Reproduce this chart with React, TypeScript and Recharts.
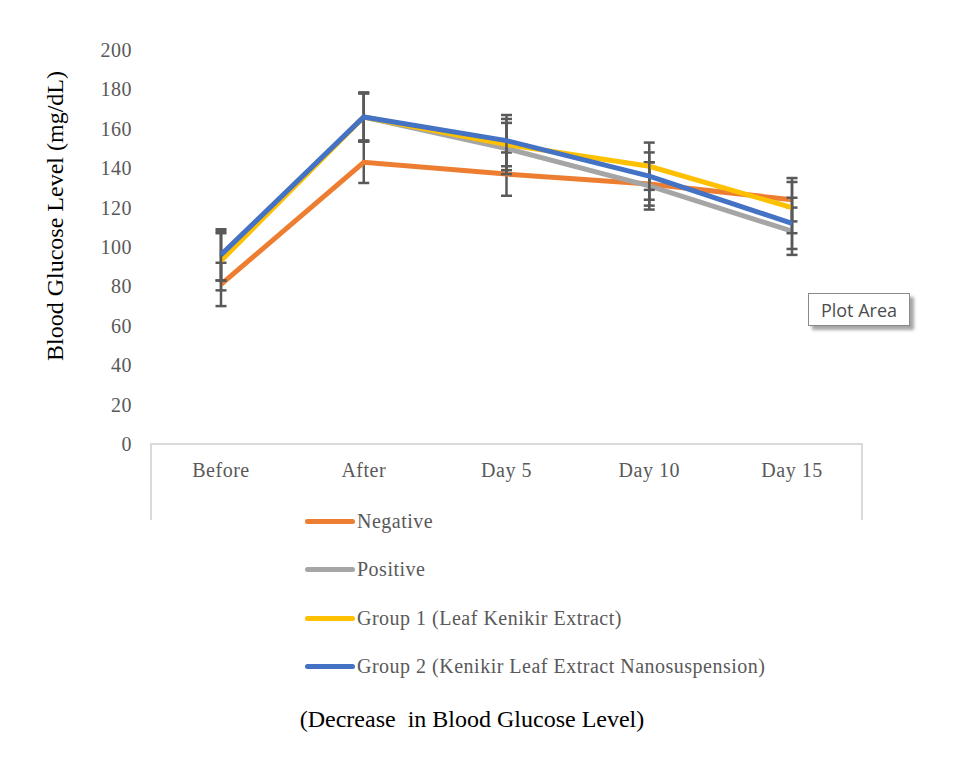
import { LineChart, Line, XAxis, YAxis, ErrorBar, Legend } from 'recharts';

const days = ['Before', 'After', 'Day 5', 'Day 10', 'Day 15'];
const yTicks = [0, 20, 40, 60, 80, 100, 120, 140, 160, 180, 200];

const negative = [81, 143, 137, 132, 124];
const negativeErr = [11, 10.5, 11, 11, 11];
const positive = [95, 166, 150, 131, 108];
const positiveErr = [12, 12, 13, 12, 12];
const group1 = [93, 166, 152, 141, 120];
const group1Err = [15, 12, 13, 12, 13];
const group2 = [96, 166, 154, 136, 112];
const group2Err = [13, 12.5, 13, 12, 13];

const SERIES = [
  { key: 'negative', err: 'negativeErr', name: 'Negative', color: '#ED7D31' },
  { key: 'positive', err: 'positiveErr', name: 'Positive', color: '#A5A5A5' },
  { key: 'group1', err: 'group1Err', name: 'Group 1 (Leaf Kenikir Extract)', color: '#FFC000' },
  { key: 'group2', err: 'group2Err', name: 'Group 2 (Kenikir Leaf Extract Nanosuspension)', color: '#4472C4' },
];

const data = days.map((day, i) => ({
  day,
  negative: negative[i],
  negativeErr: negativeErr[i],
  positive: positive[i],
  positiveErr: positiveErr[i],
  group1: group1[i],
  group1Err: group1Err[i],
  group2: group2[i],
  group2Err: group2Err[i],
}));

const SERIF = '"Liberation Serif", "Times New Roman", serif';
const TEXT = '#595959';

const XTick = (props: any) => (
  <text
    x={props.x}
    y={props.y + 26}
    textAnchor="middle"
    dominantBaseline="central"
    fill={TEXT}
    fontSize={20}
    letterSpacing={0.5}
    fontFamily={SERIF}
  >
    {props.payload.value}
  </text>
);

const YTick = (props: any) => (
  <text
    x={props.x - 18}
    y={props.y}
    textAnchor="end"
    dominantBaseline="central"
    fill={TEXT}
    fontSize={20}
    letterSpacing={0.5}
    fontFamily={SERIF}
  >
    {props.payload.value}
  </text>
);

const LegendList = () => (
  <div style={{ fontFamily: SERIF, fontSize: 20, letterSpacing: 0.5, color: TEXT }}>
    {SERIES.map((s) => (
      <div key={s.key} style={{ display: 'flex', alignItems: 'center', height: 48.5 }}>
        <span
          style={{
            display: 'inline-block',
            width: 50,
            height: 5,
            borderRadius: 3,
            background: s.color,
            marginRight: 2,
          }}
        />
        <span style={{ whiteSpace: 'nowrap' }}>{s.name}</span>
      </div>
    ))}
  </div>
);

export default function App() {
  return (
    <div style={{ position: 'relative', width: 946, height: 750, fontFamily: SERIF }}>
      <LineChart
        width={946}
        height={750}
        data={data}
        margin={{ top: 42, right: 91, bottom: 284, left: 82 }}
      >
        <XAxis
          dataKey="day"
          height={30}
          padding={{ left: 71, right: 71 }}
          tickLine={false}
          tickSize={0}
          tickMargin={0}
          axisLine={{ stroke: '#d9d9d9', strokeWidth: 2 }}
          tick={<XTick />}
        />
        <YAxis
          width={60}
          domain={[0, 200]}
          ticks={yTicks}
          interval={0}
          axisLine={false}
          tickLine={false}
          tickSize={0}
          tickMargin={0}
          tick={<YTick />}
        />
        <Legend
          layout="vertical"
          align="center"
          verticalAlign="middle"
          wrapperStyle={{ left: 297, top: 489, width: 560 }}
          content={<LegendList />}
        />
        {SERIES.map((s) => (
          <Line
            key={s.key}
            type="linear"
            dataKey={s.key}
            name={s.name}
            stroke={s.color}
            strokeWidth={5}
            dot={false}
            activeDot={false}
            isAnimationActive={false}
          >
            <ErrorBar
              dataKey={s.err}
              direction="y"
              width={5.5}
              strokeWidth={2.5}
              stroke="#595959"
              isAnimationActive={false}
            />
          </Line>
        ))}
      </LineChart>

      {/* light grey frame below the axis */}
      <div
        style={{
          position: 'absolute',
          left: 142,
          top: 436,
          width: 709,
          height: 76,
          borderLeft: '2px solid #d9d9d9',
          borderRight: '2px solid #d9d9d9',
          pointerEvents: 'none',
        }}
      />

      <div
        style={{
          position: 'absolute',
          left: 47,
          top: 208,
          transform: 'translate(-50%, -50%) rotate(-90deg)',
          fontSize: 24,
          color: '#000',
          whiteSpace: 'nowrap',
        }}
      >
        Blood Glucose Level (mg/dL)
      </div>

      <div
        style={{
          position: 'absolute',
          left: 800,
          top: 285,
          width: 102,
          height: 33,
          border: '1px solid #8a8a8a',
          background: '#fff',
          boxShadow: '4px 4px 3px rgba(0,0,0,0.35)',
          fontFamily: '"Open Sans", sans-serif',
          fontSize: 18,
          color: '#4d4d4d',
          display: 'flex',
          alignItems: 'center',
          justifyContent: 'center',
          boxSizing: 'border-box',
        }}
      >
        Plot Area
      </div>

      <div
        style={{
          position: 'absolute',
          left: 0,
          width: 928,
          top: 698,
          textAlign: 'center',
          fontSize: 24,
          color: '#000',
          whiteSpace: 'pre',
        }}
      >
        (Decrease  in Blood Glucose Level)
      </div>
    </div>
  );
}
